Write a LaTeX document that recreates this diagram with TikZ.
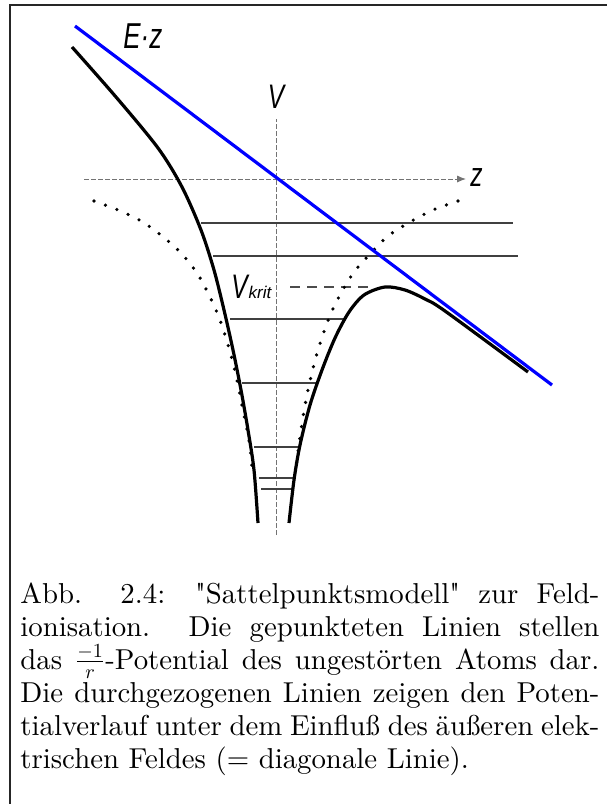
\documentclass[tikz,border=0pt]{standalone}
\usepackage{fontspec}
\setmainfont{lmroman10-regular.otf}[Ligatures={TeXOff,Common},ItalicFont=lmroman10-italic.otf,BoldFont=lmroman10-bold.otf]
\newfontfamily\labfont{Liberation Sans}[FakeStretch=0.72]
\newfontfamily\subfont{Liberation Sans}
\usetikzlibrary{arrows.meta}
\newlength\capw
\setlength\capw{289.5pt}
\tikzset{
  axisline/.style={draw=black!55,line width=0.5pt,dash pattern=on 2.5pt off 1pt},
  bluefield/.style={draw=blue,line width=1.6pt},
  thickcurve/.style={draw=black,line width=1.6pt},
  dotcurve/.style={draw=black,line width=1.8pt,line cap=round,dash pattern=on 0pt off 6.1pt},
  level/.style={draw=black!75,line width=0.55pt},
  krit/.style={draw=black!70,line width=0.55pt,dash pattern=on 5pt off 3.5pt},
  lab/.style={inner sep=0,font=\labfont\itshape\fontsize{17}{17}\selectfont},
}
\begin{document}
\begin{tikzpicture}[x=0.5pt,y=-0.5pt]
\useasboundingbox (0,0) rectangle (606,804);
% frame
\coordinate (f1) at (10,812);
\coordinate (f2) at (10,5);
\coordinate (f3) at (614,5);
\draw[line width=1pt,black!85] (f1) -- (f2) -- (f3);
% axes
\coordinate (vtop) at (276,119);
\coordinate (vbot) at (276,535);
\draw[axisline] (vbot) -- (vtop);
\coordinate (zl) at (84,179);
\coordinate (zr) at (466,179);
\draw[axisline,-{Latex[length=4.5pt,width=3.6pt]}] (zl) -- (zr);
\node[lab,anchor=west] (zlab) at (470,178) {z};
\node[lab] (vlab) at (276,97) {V};
\node[lab,anchor=base west,font=\labfont\itshape\fontsize{18}{18}\selectfont] (ez) at (123,48) {E·z};
% energy levels
\coordinate (l1a) at (201,223); \coordinate (l1b) at (513,223);
\coordinate (l2a) at (213,256); \coordinate (l2b) at (518,256);
\coordinate (l3a) at (230,319); \coordinate (l3b) at (344,319);
\coordinate (l4a) at (242,383); \coordinate (l4b) at (318,383);
\coordinate (l5a) at (254,447); \coordinate (l5b) at (298,447);
\coordinate (l6a) at (259,478); \coordinate (l6b) at (294,478);
\coordinate (l7a) at (261,489); \coordinate (l7b) at (292,489);
\draw[level] (l1a) -- (l1b);
\draw[level] (l2a) -- (l2b);
\draw[level] (l3a) -- (l3b);
\draw[level] (l4a) -- (l4b);
\draw[level] (l5a) -- (l5b);
\draw[level] (l6a) -- (l6b);
\draw[level] (l7a) -- (l7b);
% V krit
\coordinate (k1) at (290,287);
\coordinate (k2) at (368,287);
\draw[krit] (k1) -- (k2);
\node[lab,anchor=base west] (vk) at (231,298) {V\kern0.5pt{\subfont\itshape\fontsize{8.5}{8.5}\selectfont krit}};
% dotted unperturbed potential
\draw[dotcurve] plot[smooth] coordinates {(94,201) (118,210) (141,221) (162,236) (181,253) (197,273) (209,295) (220,320) (231,355) (238,385) (244,415) (249,440) (252,467)};
\draw[dotcurve] plot[smooth] coordinates {(458,201) (433,210) (410,222) (388,236) (371,253) (354,272) (340,295) (329,318) (318,350) (309,385) (303,417) (299,445) (296,467)};
% perturbed potential
\draw[thickcurve] plot[smooth] coordinates {(72,47) (116,97) (158,148) (182,187) (201,230) (214,270) (224,310) (233,350) (241,390) (248,430) (254,470) (258,523)};
\draw[thickcurve] plot[smooth] coordinates {(289,523) (294,480) (300,445) (310,405) (322,370) (335,338) (349,312) (364,295) (385,287) (405,290) (425,299) (445,311) (528,372)};
% field line
\coordinate (b1) at (75,26);
\coordinate (b2) at (552,385);
\draw[bluefield] (b1) -- (b2);
% caption
\node[anchor=base west,inner sep=0] (cap) at (20,603) {\parbox[t]{\capw}{\fontsize{14.4}{16.5}\selectfont
\hbox to \capw{Abb. 2.4: "Sattelpunktsmodell" zur Feld-}
\hbox to \capw{ionisation. Die gepunkteten Linien stellen}
\hbox to \capw{das $\frac{-1}{r}$-Potential des ungestörten Atoms dar.}
\hbox to \capw{Die durchgezogenen Linien zeigen den Poten-}
\hbox to \capw{tialverlauf unter dem Einfluß des äußeren elek-}
\hbox{trischen Feldes (= diagonale Linie).}}};
\end{tikzpicture}
\end{document}
